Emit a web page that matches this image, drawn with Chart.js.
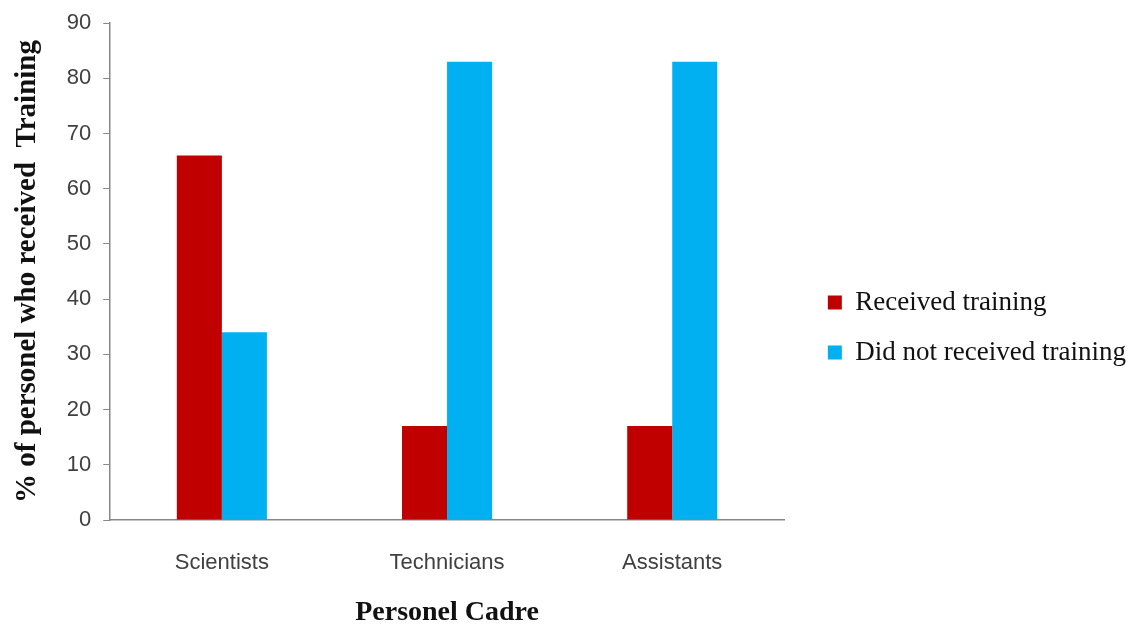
<!DOCTYPE html>
<html>
<head>
<meta charset="utf-8">
<title>Personel Cadre training</title>
<script src="https://cdn.jsdelivr.net/npm/chart.js@4"></script>
<style>
  html, body { margin: 0; padding: 0; background: #fff; }
  #wrap { width: 1146px; height: 627px; }
</style>
</head>
<body>
<div id="wrap"><canvas id="mychart" width="1146" height="627"></canvas></div>
<script>
// categories along the x-axis
var cadres = ['Scientists', 'Technicians', 'Assistants'];
// % of personel in each cadre
var received = [66, 17, 17];
var notReceived = [34, 83, 83];
var seriesNames = ['Received training', 'Did not received training'];
var yTicks = [0, 10, 20, 30, 40, 50, 60, 70, 80, 90];

var tickFont = { family: "'Liberation Sans', Arial, sans-serif", size: 22, lineHeight: 1 };
var serif = "'Liberation Serif', 'Times New Roman', serif";

// legend sits a bit away from the plot and a little below centre
var legendExtra = 28, legendShiftX = 20, legendShiftY = 15;
var legendShift = {
  id: 'legendShift',
  afterInit: function (chart) {
    var lg = chart.legend;
    var fit = lg.fit;
    lg.fit = function () {
      fit.call(this);
      this.width += legendExtra;
    };
  },
  afterLayout: function (chart) {
    chart.legend.left += legendShiftX;
    chart.legend.top += legendShiftY;
    chart.legend.bottom += legendShiftY;
  }
};

var ctx = document.getElementById('mychart');
var myChart = new Chart(ctx, {
  type: 'bar',
  data: {
    labels: cadres,
    datasets: [{
      label: seriesNames[0],
      data: received,
      backgroundColor: '#C00000',
      borderWidth: 0
    }, {
      label: seriesNames[1],
      data: notReceived,
      backgroundColor: '#00B0F0',
      borderWidth: 0
    }]
  },
  plugins: [legendShift],
  options: {
    responsive: false,
    animation: false,
    categoryPercentage: 0.4,
    barPercentage: 1.0,
    layout: { padding: { top: -2, right: 2, bottom: 0, left: 10 } },
    plugins: {
      tooltip: { enabled: false },
      legend: {
        position: 'right',
        maxWidth: 500,
        labels: {
          boxWidth: 14,
          boxHeight: 14,
          padding: 23,
          color: '#111',
          font: { family: serif, size: 27 }
        }
      }
    },
    scales: {
      x: {
        grid: { display: false, drawTicks: false },
        border: { color: '#888', width: 1.5 },
        ticks: { color: '#404040', font: tickFont, padding: 32 },
        title: {
          display: true,
          text: 'Personel Cadre',
          color: '#111',
          font: { family: serif, size: 28, weight: 'bold', lineHeight: 1 },
          padding: { top: -7, bottom: 0 }
        }
      },
      y: {
        min: 0,
        max: 90,
        afterBuildTicks: function (axis) {
          axis.ticks = yTicks.map(function (v) { return { value: v }; });
        },
        grid: { drawOnChartArea: false, drawTicks: true, tickLength: 6, color: '#888' },
        border: { color: '#888', width: 1.5 },
        ticks: { color: '#404040', font: tickFont, padding: 12 },
        title: {
          display: true,
          text: '% of personel who received  Training',
          color: '#111',
          font: { family: serif, size: 29, weight: 'bold' },
          padding: { top: 0, bottom: 10 }
        }
      }
    }
  }
});
</script>
</body>
</html>
